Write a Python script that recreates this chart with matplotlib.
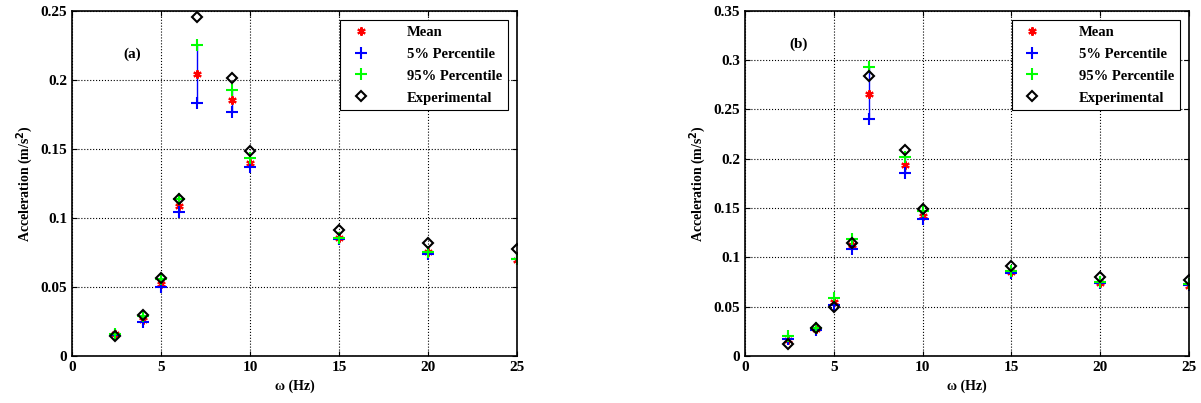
import matplotlib
matplotlib.use("Agg")
import matplotlib.pyplot as plt
from matplotlib.ticker import FuncFormatter

plt.rcParams.update({'font.family': 'Liberation Serif', 'font.weight': 'bold',
                     'axes.labelweight': 'bold', 'font.size': 10,
                     'mathtext.fontset': 'custom', 'mathtext.rm': 'Liberation Serif',
                     'mathtext.default': 'bf'})

freq = [2.4, 4, 5, 6, 7, 9, 10, 15, 20, 25]

# panel (a)
mean_a = [0.0155, 0.026, 0.052, 0.1086, 0.204, 0.1855, 0.140, 0.0856, 0.0752, 0.0694]
p5_a = [0.015, 0.0247, 0.0496, 0.1045, 0.183, 0.1767, 0.1366, 0.0844, 0.0737, 0.0699]
p95_a = [0.016, 0.0288, 0.0554, 0.1134, 0.2253, 0.1927, 0.1434, 0.0856, 0.0752, 0.0704]
exp_a = [0.0147, 0.0295, 0.0566, 0.1134, 0.2454, 0.2012, 0.1487, 0.0911, 0.0815, 0.0776]

# panel (b)
mean_b = [0.016, 0.0268, 0.055, 0.1126, 0.2658, 0.1933, 0.142, 0.0855, 0.0743, 0.0709]
p5_b = [0.0176, 0.026, 0.0515, 0.108, 0.2404, 0.1855, 0.1387, 0.0844, 0.0736, 0.0719]
p95_b = [0.0203, 0.0278, 0.0583, 0.119, 0.2933, 0.2014, 0.1465, 0.0865, 0.0753, 0.0729]
exp_b = [0.0125, 0.0278, 0.0498, 0.1143, 0.2838, 0.2085, 0.149, 0.0916, 0.0804, 0.077]

panels = [
    ("(a)", mean_a, p5_a, p95_a, exp_a, 0.25, (2.9, 0.216)),
    ("(b)", mean_b, p5_b, p95_b, exp_b, 0.35, (2.5, 0.313)),
]

fig = plt.figure(figsize=(12.01, 4.03), dpi=100)
rects = [[0.060, 0.117, 0.3705, 0.856], [0.6203, 0.117, 0.3697, 0.856]]

for rect, (tag, mean, p5, p95, expv, ymax, tagpos) in zip(rects, panels):
    ax = fig.add_axes(rect)
    ax.vlines(freq, p5, p95, color='b', lw=1)
    ax.plot(freq, mean, ls='none', marker=(6, 2, 0), color='r', ms=6, mew=1.5,
            label='Mean')
    ax.plot(freq, p5, ls='none', marker='+', color='b', ms=9, mew=1.5,
            label='5% Percentile')
    ax.plot(freq, p95, ls='none', marker='+', color='#00ff00', ms=9, mew=1.5,
            label='95% Percentile')
    ax.plot(freq, expv, ls='none', marker='D', mfc='none', mec='k', ms=5,
            mew=1.5, label='Experimental')
    ax.set_xlim(0, 25)
    ax.set_ylim(0, ymax)
    ax.set_xticks([0, 5, 10, 15, 20, 25])
    ax.yaxis.set_major_formatter(FuncFormatter(lambda v, p: '%g' % round(v, 3)))
    ax.grid(True, color='k', ls=':', lw=0.8)
    ax.tick_params(direction='in', top=True, right=True, labelsize=11)
    for s in ax.spines.values():
        s.set_linewidth(1.2)
    ax.set_xlabel('ω (Hz)', fontsize=10, fontweight='bold')
    ax.set_ylabel('Acceleration (m/s$^2$)', fontsize=10, fontweight='bold')
    ax.text(tagpos[0], tagpos[1], tag, fontsize=11, fontweight='bold')
    leg = ax.legend(loc='upper right', prop={'size': 10.5, 'weight': 'bold'},
                    fancybox=False, edgecolor='k', framealpha=1,
                    borderaxespad=0.6, handletextpad=2.2, labelspacing=0.6)
    leg.get_frame().set_linewidth(0.8)

fig.savefig("out.png", dpi=100)
